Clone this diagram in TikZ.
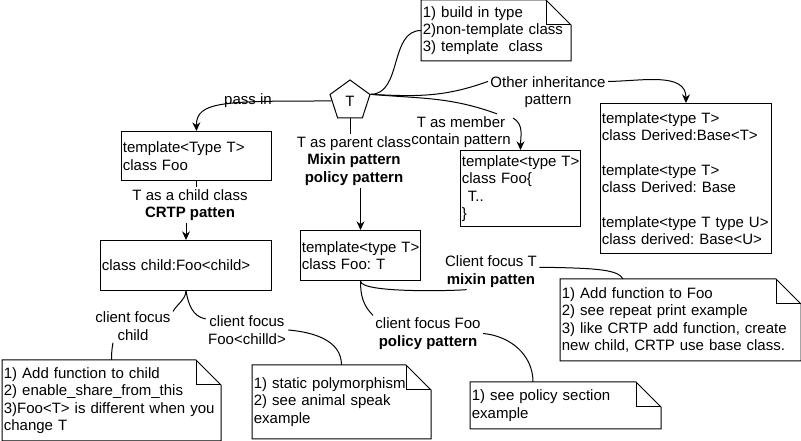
\documentclass[tikz,border=0pt]{standalone}
\usepackage{fontspec}
\setmainfont{Liberation Sans}
\usetikzlibrary{shapes.geometric,arrows.meta}
\frenchspacing

\begin{document}
\begin{tikzpicture}[x=0.75pt,y=0.75pt,line width=0.75pt,
  every node/.style={font=\fontsize{11.25}{13}\selectfont},
  box/.style={draw,rectangle,anchor=north west,align=left,inner xsep=1pt,inner ysep=1.5pt},
  note/.style={rectangle,anchor=north west,align=left,inner xsep=1pt,inner ysep=1.5pt},
  lbl/.style={align=center,inner sep=1.5pt},
  arr/.style={-{Stealth[length=6.5pt,width=6pt]}}]
\useasboundingbox (0,0) rectangle (801,-441);

\node[regular polygon,regular polygon sides=5,draw,minimum size=31.5pt,inner sep=0pt] (T) at (350,-101) {T};

\node[note,text width=109.75pt,minimum height=45pt]   (types) at (421,0)    {1) build in type\\2)non-template class\\3) template\ \ class};
\node[note,text width=161.5pt,minimum height=60pt]    (cnote) at (2,-360)   {1) Add function to child\\2) enable\_share\_from\_this\\3)Foo<T> is different when you\\change T};
\node[note,text width=131.5pt,minimum height=54.75pt] (snote) at (252,-365) {1) static polymorphism\\2) see animal speak\\example};
\node[note,text width=140.5pt,minimum height=34.5pt]  (pnote) at (470,-382) {1) see policy section\\example};
\node[note,text width=178pt,minimum height=60.75pt]   (mnote) at (560,-279) {1) Add function to Foo\\2) see repeat print example\\3) like CRTP add function, create\\new child, CRTP use base class.};

\node[box,text width=110.5pt,minimum height=36.75pt] (foo)     at (121,-131) {template<Type T>\\class Foo};
\node[box,text width=126.25pt,minimum height=37.5pt] (child)   at (100,-240) {class child:Foo<child>};
\node[box,text width=88pt,minimum height=37.5pt]     (mixin)   at (300,-230) {template<type~T>\\class Foo: T};
\node[box,text width=88pt,minimum height=57pt]       (member)  at (460,-150) {template<type~T>\\class Foo\{\\\hspace*{4.5pt}T..\\\}};
\node[box,text width=126.25pt,minimum height=112.5pt] (derived) at (600,-103) {template<type T>\\class Derived:Base<T>\\[13pt]template<type T>\\class Derived: Base\\[13pt]template<type~T~type~U>\\class derived: Base<U>};

\node[lbl] (passin)    at (248,-101)   {pass in};
\node[lbl] (other)     at (548,-92)    {Other inheritance\\pattern};
\node[lbl] (memberlbl) at (461,-132)   {T as member\\contain pattern};
\node[lbl] (parentlbl) at (354,-161)   {T as parent class\\\textbf{Mixin pattern}\\\textbf{policy pattern}};
\node[lbl] (crtplbl)   at (190,-205)   {T as a child class\\\textbf{CRTP patten}};
\node[lbl] (mixinlbl)  at (491,-271.5) {Client focus T\\\textbf{mixin patten}};
\node[lbl] (policylbl) at (428,-333.5) {client focus Foo\\\textbf{policy pattern}};
\node[lbl] (childlbl)  at (133,-326)   {client focus\\child};
\node[lbl] (fooclbl)   at (247,-330)   {client focus\\Foo<chilld>};

\draw (types.north west) -- ([xshift=-18.75pt]types.north east) -- ([yshift=-18.75pt]types.north east) -- (types.south east) -- (types.south west) -- cycle;
\draw ([xshift=-18.75pt]types.north east) |- ([yshift=-18.75pt]types.north east);
\draw (cnote.north west) -- ([xshift=-18.75pt]cnote.north east) -- ([yshift=-18.75pt]cnote.north east) -- (cnote.south east) -- (cnote.south west) -- cycle;
\draw ([xshift=-18.75pt]cnote.north east) |- ([yshift=-18.75pt]cnote.north east);
\draw (snote.north west) -- ([xshift=-18.75pt]snote.north east) -- ([yshift=-18.75pt]snote.north east) -- (snote.south east) -- (snote.south west) -- cycle;
\draw ([xshift=-18.75pt]snote.north east) |- ([yshift=-18.75pt]snote.north east);
\draw (pnote.north west) -- ([xshift=-18.75pt]pnote.north east) -- ([yshift=-18.75pt]pnote.north east) -- (pnote.south east) -- (pnote.south west) -- cycle;
\draw ([xshift=-18.75pt]pnote.north east) |- ([yshift=-18.75pt]pnote.north east);
\draw (mnote.north west) -- ([xshift=-18.75pt]mnote.north east) -- ([yshift=-18.75pt]mnote.north east) -- (mnote.south east) -- (mnote.south west) -- cycle;
\draw ([xshift=-18.75pt]mnote.north east) |- ([yshift=-18.75pt]mnote.north east);

\draw (T.corner 5) to[out=0,in=180] (types.west);
\draw (T.corner 5) to[out=-3,in=200] (other.170);
\draw[arr] (other.10) to[out=0,in=90] (derived.north);
\draw (T.corner 5) to[out=-5,in=160] ([xshift=27pt]memberlbl.north);
\draw[arr] (memberlbl.15) to[out=-30,in=90] (member.north);
\draw[arr] (T.west) .. controls (225,-101) and (196,-101) .. (foo.north);
\draw (T.south) -- (T.south |- parentlbl.north);
\draw[arr] (parentlbl.south -| mixin.north) -- (mixin.north);
\draw (foo.south) -- (foo.south |- crtplbl.north);
\draw[arr] (crtplbl.south -| child.north) -- (child.north);

\draw (child.south) to[out=-95,in=60] (childlbl.20);
\draw ([xshift=-15pt]childlbl.south) to[out=-100,in=90] (cnote.north);
\draw (child.south) to[out=-80,in=170] (fooclbl.165);
\draw (fooclbl.east) to[out=-5,in=90] (snote.north);

\draw (mixin.south) to[out=-90,in=185,looseness=0.3] ([xshift=18pt]mixinlbl.south west);
\draw (mixinlbl.5) .. controls (600,-268) and (618,-270) .. ([xshift=47.25pt]mnote.north west);
\draw (mixin.south) to[out=-90,in=135] (policylbl.north west);
\draw (policylbl.east) to[out=-5,in=90] ([xshift=47.25pt]pnote.north west);
\end{tikzpicture}
\end{document}
